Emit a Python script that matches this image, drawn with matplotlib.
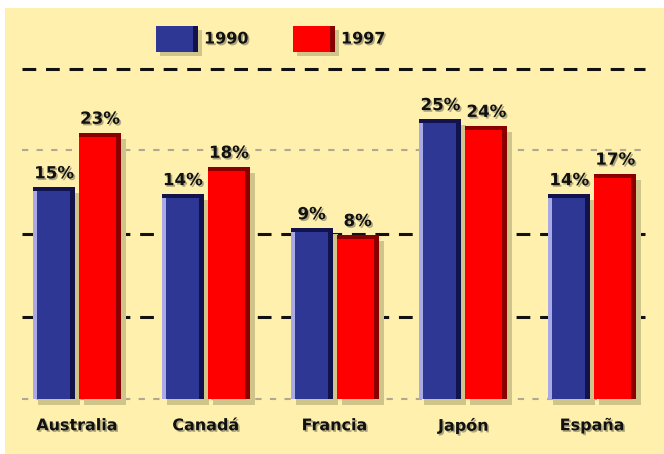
import matplotlib
matplotlib.use("Agg")
import matplotlib.pyplot as plt
import matplotlib.patheffects as pe
from matplotlib.patches import Rectangle

countries = ["Australia", "Canadá", "Francia", "Japón", "España"]
v1990 = [15, 14, 9, 25, 14]
v1997 = [23, 18, 8, 24, 17]
years = ["1990", "1997"]

# the original chart does not start at zero
BASE = -16.0
grid_dark = [-4.0, 8.2, 32.3]
grid_light = [20.4]

BLUE = "#2f3794"
BLUE_L = "#a9a9e6"
BLUE_D = "#12124d"
RED = "#ff0000"
RED_D = "#8a0000"
SHADOW = "#cfc58a"
BG = "#fff0ad"

W, H = 664, 454
fig = plt.figure(figsize=(W / 100, H / 100), dpi=100)
fig.patch.set_facecolor("white")
ax = fig.add_axes([0, 0, 1, 1])
ax.axis("off")

# pixel -> data mapping
PX = 128.8
X0 = 77
PY = 6.82
ax.set_xlim(-X0 / PX, (W - X0) / PX)
ax.set_ylim((399 - 454 - 109.4) / PY, (399 - 109.4) / PY)

def dx(p):
    return p / PX

def dy(p):
    return p / PY

# background panel
ax.add_patch(Rectangle((dx(5 - X0), ax.get_ylim()[0]), dx(W), dy(454 - 8),
                       facecolor=BG, edgecolor="none", zorder=0))

x_lo, x_hi = dx(22 - X0), dx(645 - X0)
for g in grid_dark:
    ax.plot([x_lo, x_hi], [g, g], color="#111111", lw=2.2,
            dashes=(4.5, 3.2), zorder=1)
for g in grid_light + [BASE]:
    ax.plot([x_lo, x_hi], [g, g], color="#b0a890", lw=1.5,
            dashes=(3, 4), zorder=1)


def bar3d(x, w, val, main, light, dark, top):
    h = val - BASE
    # shadow
    ax.add_patch(Rectangle((x + dx(5), BASE - dy(6)), w, h, facecolor=SHADOW,
                           edgecolor="none", zorder=2))
    ax.add_patch(Rectangle((x, BASE), w, h, facecolor=main, edgecolor="none", zorder=3))
    if light:
        ax.add_patch(Rectangle((x, BASE), dx(4), h, facecolor=light,
                               edgecolor="none", zorder=4))
    ax.add_patch(Rectangle((x + w - dx(5), BASE), dx(5), h, facecolor=dark,
                           edgecolor="none", zorder=4))
    ax.add_patch(Rectangle((x, val - dy(4)), w, dy(4), facecolor=top,
                           edgecolor="none", zorder=4))


bw = dx(42)
shadow_fx = [pe.withSimplePatchShadow(offset=(1.2, -1.2), shadow_rgbFace="#9a9470", alpha=0.8)]
for i, name in enumerate(countries):
    xb = i - dx(44)
    xr = i + dx(2)
    bar3d(xb, bw, v1990[i], BLUE, BLUE_L, BLUE_D, BLUE_D)
    bar3d(xr, bw, v1997[i], RED, None, RED_D, RED_D)
    ax.text(xb + bw / 2, v1990[i] + dy(5), f"{v1990[i]}%", ha="center", va="bottom",
            fontsize=12, fontweight="bold", color="#111111", path_effects=shadow_fx, zorder=6)
    ax.text(xr + bw / 2, v1997[i] + dy(5), f"{v1997[i]}%", ha="center", va="bottom",
            fontsize=12, fontweight="bold", color="#111111", path_effects=shadow_fx, zorder=6)
    ax.text(i, BASE - dy(27), name, ha="center", va="center", fontsize=11.5,
            fontweight="bold", color="#111111", path_effects=shadow_fx, zorder=6)

# legend
ly = (399 - 109.4 - 39) / PY
for px, col, dark, lab in [(156, BLUE, BLUE_D, years[0]), (293, RED, RED_D, years[1])]:
    x = dx(px - X0)
    ax.add_patch(Rectangle((x + dx(4), ly - dy(17)), dx(42), dy(26), facecolor=SHADOW,
                           edgecolor="none", zorder=2))
    ax.add_patch(Rectangle((x, ly - dy(13)), dx(42), dy(26), facecolor=col,
                           edgecolor="none", zorder=3))
    ax.add_patch(Rectangle((x + dx(37), ly - dy(13)), dx(5), dy(26), facecolor=dark,
                           edgecolor="none", zorder=4))
    ax.text(x + dx(48), ly, lab, ha="left", va="center", fontsize=11.5,
            fontweight="bold", color="#111111", path_effects=shadow_fx, zorder=6)

fig.savefig("out.png", dpi=100, facecolor=fig.get_facecolor())
